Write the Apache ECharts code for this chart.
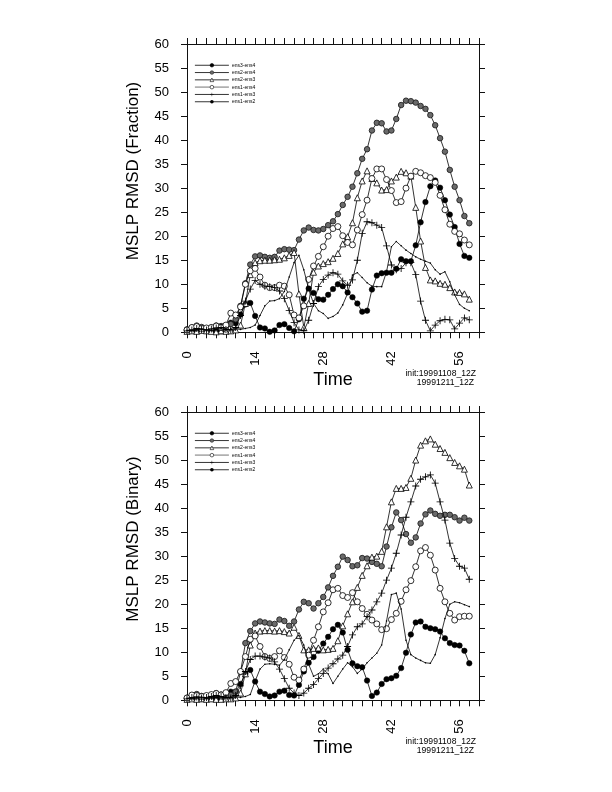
<!DOCTYPE html>
<html>
<head>
<meta charset="utf-8">
<script src="https://cdn.jsdelivr.net/npm/echarts@6/dist/echarts.min.js"></script>
<style>
html,body{margin:0;padding:0;background:#fff;}
#chart{width:612px;height:792px;}
</style>
</head>
<body>
<div id="chart"></div>
<script>
// ---------- data ----------
const times = Array.from({length: 59}, (_, i) => i); // 0..58
const seriesNames = ['ens3-ens4', 'ens2-ens4', 'ens2-ens3', 'ens1-ens4', 'ens1-ens3', 'ens1-ens2'];
const xTickLabels = [0, 14, 28, 42, 56];

// Top panel: MSLP RMSD (Fraction)
const fracEns3Ens4 = [0.5,0.6,0.4,0.6,0.4,0.3,0.4,0.2,1.3,
  2.0,1.9,3.7,5.8,6.1,3.4,1.0,0.8,0.1,0.4,1.5,1.7,0.9,0.2,2.7,7.0,9.1,8.2,6.9,6.8,7.8,
  9.0,10.0,9.6,8.3,7.3,6.0,4.3,4.5,8.9,11.8,12.3,12.4,12.4,13.2,15.2,14.8,14.8,18.1,22.9,27.1,30.4,31.6,30.1,27.5,24.5,21.9,18.4,15.9,15.5];
const fracEns2Ens4 = [0.6,1.0,1.4,1.1,0.6,1.0,1.4,1.3,1.0,
  1.7,2.7,5.5,10.2,14.1,15.8,16.0,15.7,15.5,15.7,17.0,17.3,17.2,17.1,19.3,21.2,21.8,21.3,21.2,21.5,22.3,
  23.1,24.6,26.5,28.2,30.3,33.1,36.1,38.1,42.0,43.6,43.5,41.8,42.0,44.4,47.3,48.2,48.1,47.8,47.1,46.5,45.2,43.1,40.4,37.6,33.8,30.3,27.5,24.2,22.7];
const fracEns2Ens3 = [0.2,0.3,0.2,0.4,0.3,0.2,0.1,0.3,0.2,
  0.3,0.5,1.5,6.0,12.0,14.5,14.9,15.0,15.0,15.1,15.2,15.5,16.0,16.6,8.0,1.0,6.0,12.5,13.8,14.3,14.7,
  15.4,16.4,18.4,19.9,22.8,28.0,31.5,33.6,32.0,31.1,29.6,29.7,31.5,32.3,33.5,33.2,32.5,26.0,19.0,13.5,10.9,10.7,10.2,10.0,9.3,8.4,8.3,8.0,6.9];
const fracEns1Ens4 = [0.5,1.0,1.2,0.8,0.9,1.0,1.3,1.0,1.5,
  4.0,3.6,5.3,10.0,12.8,13.3,11.5,9.8,9.3,9.3,9.8,9.6,7.8,3.6,3.0,5.5,11.0,13.8,15.8,17.8,20.0,
  21.6,22.0,20.1,18.7,18.2,21.3,24.5,27.5,32.0,34.0,34.0,31.8,29.5,27.0,27.2,30.0,32.5,33.5,33.2,32.6,32.2,31.2,28.5,25.5,22.5,21.0,20.5,19.2,18.2];
const fracEns1Ens3 = [0.3,0.5,0.8,0.6,0.5,0.7,0.9,1.0,0.6,
  0.5,1.0,3.5,6.5,9.0,10.8,10.0,9.6,9.5,9.3,8.6,7.0,4.5,2.0,0.5,0.3,2.5,6.0,9.5,11.0,11.9,
  12.4,12.1,10.7,9.8,10.9,15.0,20.6,23.0,22.8,22.3,21.8,18.0,14.0,13.0,13.3,14.5,14.5,12.0,6.5,2.5,0.3,1.5,2.4,2.7,2.6,0.7,1.9,3.0,2.6];
const fracEns1Ens2 = [0.4,0.3,0.5,0.8,0.5,0.4,0.6,0.8,0.5,
  0.6,0.7,0.6,0.8,1.0,1.5,3.5,5.5,6.5,6.6,7.0,8.5,11.5,14.5,16.0,13.0,9.0,6.0,4.5,3.9,2.9,
  3.3,4.0,5.7,8.1,11.9,12.4,11.4,10.3,9.6,9.5,9.5,12.6,17.8,18.9,18.0,17.1,16.4,15.7,15.2,14.8,14.4,13.0,12.1,12.6,10.5,7.8,5.8,5.0,4.5];

// Bottom panel: MSLP RMSD (Binary)
const binEns3Ens4 = [0.4,0.6,0.5,0.3,0.6,0.4,0.5,0.3,1.0,
  1.8,1.8,3.4,5.5,6.3,3.9,1.8,1.3,0.8,1.0,1.8,2.0,1.1,1.0,3.2,6.0,7.8,9.0,10.3,11.8,13.2,
  14.8,15.7,14.1,10.5,7.7,7.1,6.9,4.1,0.9,1.6,3.4,4.4,4.6,5.1,6.7,9.9,13.7,16.2,16.4,15.3,15.0,14.8,14.3,12.9,11.9,11.5,11.4,10.3,7.7];
const binEns2Ens4 = [0.5,1.0,1.3,0.9,0.7,1.1,1.5,1.2,1.0,
  1.1,1.8,5.9,11.9,14.4,16.0,16.4,16.2,16.0,15.9,16.8,16.5,15.5,16.4,18.9,20.5,20.2,19.1,20.2,21.5,23.5,
  25.9,27.8,29.9,29.2,27.9,28.1,29.6,29.5,28.8,28.4,27.9,32.0,36.0,39.1,37.5,34.6,32.8,33.9,36.8,38.7,39.5,38.8,38.4,38.6,38.6,38.1,37.4,38.0,37.4];
const binEns2Ens3 = [0.2,0.3,0.2,0.3,0.2,0.3,0.2,0.2,0.3,
  0.3,0.5,1.5,5.5,11.5,14.0,14.4,14.5,14.5,14.4,14.5,14.3,14.0,15.2,13.5,10.5,10.5,10.8,10.9,10.5,10.6,
  10.8,12.4,15.5,18.0,20.5,23.5,26.0,28.0,29.8,30.0,31.0,36.1,41.3,44.1,44.1,44.3,46.2,50.0,53.1,54.0,54.4,53.3,52.4,51.6,50.5,49.5,48.8,48.1,44.8];
const binEns1Ens4 = [0.5,1.1,1.0,0.8,1.0,1.2,1.4,1.1,1.6,
  3.5,3.9,6.0,9.1,12.7,13.4,11.2,9.1,8.7,9.1,10.3,8.9,7.5,4.8,4.2,6.5,9.4,12.5,15.3,18.4,20.3,
  23.0,23.3,21.8,21.4,22.4,20.5,19.1,17.9,16.7,15.9,14.7,14.9,16.8,18.1,20.6,23.0,24.9,27.8,31.1,31.8,30.2,27.1,23.3,20.5,18.1,16.7,17.4,17.5,17.5];
const binEns1Ens3 = [0.3,0.6,0.7,0.5,0.6,0.8,1.0,0.8,0.6,
  0.5,1.0,3.0,6.0,8.5,9.2,9.2,9.0,8.8,8.0,6.5,4.5,2.5,1.5,1.0,1.5,2.5,3.3,4.5,5.6,6.7,
  7.6,8.6,9.4,11.2,13.6,15.3,15.9,17.4,18.8,20.5,22.3,25.0,27.5,30.6,34.4,38.1,41.3,44.6,46.0,46.5,46.9,45.2,41.3,37.5,32.7,29.5,27.9,27.5,25.2];
const binEns1Ens2 = [0.4,0.3,0.6,0.7,0.4,0.5,0.6,0.7,0.5,
  0.6,0.7,0.6,0.8,1.2,4.0,6.5,7.5,7.6,7.5,7.3,8.5,10.5,12.5,13.5,11.5,7.5,5.0,5.5,6.5,5.5,
  3.5,5.0,6.5,7.8,7.0,5.6,6.5,7.8,8.8,9.8,11.5,16.5,22.0,22.3,19.0,12.5,9.5,8.8,8.3,7.8,7.7,9.5,13.0,17.0,20.0,20.5,20.3,19.9,19.5];

const fracSeries = [fracEns3Ens4, fracEns2Ens4, fracEns2Ens3, fracEns1Ens4, fracEns1Ens3, fracEns1Ens2];
const binSeries  = [binEns3Ens4, binEns2Ens4, binEns2Ens3, binEns1Ens4, binEns1Ens3, binEns1Ens2];

// ---------- styles ----------
const FONT = "'Liberation Sans', Arial, Helvetica, sans-serif";
const PLUS = 'path://M4.4,0H5.6V4.4H10V5.6H5.6V10H4.4V5.6H0V4.4H4.4Z';
const markerStyles = [
  {symbol: 'circle', symbolSize: 5.5, itemStyle: {color: '#000', borderColor: '#000', borderWidth: 0.5}},
  {symbol: 'circle', symbolSize: 5.5, itemStyle: {color: '#6a6a6a', borderColor: '#222', borderWidth: 0.9}},
  {symbol: 'triangle', symbolSize: 6, itemStyle: {color: '#fff', borderColor: '#000', borderWidth: 0.8}},
  {symbol: 'circle', symbolSize: 6, itemStyle: {color: '#fff', borderColor: '#000', borderWidth: 0.8}},
  {symbol: PLUS, symbolSize: 7, itemStyle: {color: '#000'}},
  {symbol: 'circle', symbolSize: 1.6, itemStyle: {color: '#000'}}
];

const panels = [
  {top: 44, yName: 'MSLP RMSD (Fraction)', data: fracSeries},
  {top: 412, yName: 'MSLP RMSD (Binary)', data: binSeries}
];
const GRID_LEFT = 187, GRID_W = 292, GRID_H = 288.3;

const grids = [], xAxes = [], yAxes = [], series = [], legends = [], graphics = [];
const axisLineStyle = {color: '#111', width: 1};
const tickStyle = {color: '#111', width: 1};

panels.forEach((p, pi) => {
  grids.push({left: GRID_LEFT, top: p.top, width: GRID_W, height: GRID_H, containLabel: false});
  const xBase = {
    type: 'value', gridIndex: pi, min: 0, max: 60, interval: 2,
    axisLine: {show: true, onZero: false, lineStyle: axisLineStyle},
    axisTick: {show: true, inside: false, length: 6, lineStyle: tickStyle},
    splitLine: {show: false}
  };
  xAxes.push(Object.assign({}, xBase, {
    position: 'bottom',
    axisLabel: {
      show: true, rotate: 90, margin: 19, fontSize: 13, color: '#000', fontFamily: FONT,
      formatter: v => (xTickLabels.indexOf(v) >= 0 ? String(v) : '')
    }
  }));
  xAxes.push(Object.assign({}, xBase, {position: 'top', axisLabel: {show: false}}));
  const yBase = {
    type: 'value', gridIndex: pi, min: 0, max: 60, interval: 5,
    axisLine: {show: true, onZero: false, lineStyle: axisLineStyle},
    axisTick: {show: true, inside: false, length: 6, lineStyle: tickStyle},
    splitLine: {show: false}
  };
  yAxes.push(Object.assign({}, yBase, {
    position: 'left',
    axisLabel: {show: true, margin: 18, fontSize: 13, color: '#000', fontFamily: FONT}
  }));
  yAxes.push(Object.assign({}, yBase, {position: 'right', axisLabel: {show: false}}));

  p.data.forEach((arr, k) => {
    const m = markerStyles[k];
    series.push({
      type: 'line', name: seriesNames[k],
      xAxisIndex: pi * 2, yAxisIndex: pi * 2,
      data: times.map((t, i) => [t, arr[i]]),
      symbol: m.symbol, symbolSize: m.symbolSize, showSymbol: true,
      itemStyle: m.itemStyle,
      lineStyle: {color: '#000', width: 0.8},
      z: 2 + k,
      animation: false, silent: true
    });
  });

  legends.push({
    orient: 'vertical', left: 194, top: p.top + 18.5, padding: 0,
    itemWidth: 34, itemHeight: 4.5, itemGap: 1.8,
    itemStyle: {borderWidth: 0.6},
    textStyle: {fontSize: 5, lineHeight: 5.5, color: '#000', fontFamily: FONT, padding: [0, 0, 0, -2]},
    selectedMode: false,
    data: seriesNames.map((n, k) => k === 3
      ? {name: n, lineStyle: {color: '#b0b0b0', width: 1.8}}
      : {name: n, lineStyle: {color: '#000', width: 0.8}})
  });

  const off = p.top - 44;
  graphics.push({
    type: 'text', x: 133, y: 171 + off, rotation: Math.PI / 2,
    style: {text: p.yName, fontSize: 17, fontFamily: FONT, fill: '#000',
            textAlign: 'center', textVerticalAlign: 'middle'}
  });
  graphics.push({
    type: 'text', x: 333, y: 380 + off,
    style: {text: 'Time', fontSize: 18, fontFamily: FONT, fill: '#000',
            textAlign: 'center', textVerticalAlign: 'middle'}
  });
  graphics.push({
    type: 'text', x: 476, y: 373.5 + off,
    style: {text: 'init:19991108_12Z', fontSize: 8.6, fontFamily: FONT, fill: '#000',
            textAlign: 'right', textVerticalAlign: 'middle'}
  });
  graphics.push({
    type: 'text', x: 474, y: 382.5 + off,
    style: {text: '19991211_12Z', fontSize: 8.6, fontFamily: FONT, fill: '#000',
            textAlign: 'right', textVerticalAlign: 'middle'}
  });
});

const chart = echarts.init(document.getElementById('chart'), null, {renderer: 'canvas'});
chart.setOption({
  backgroundColor: '#fff',
  animation: false,
  grid: grids,
  xAxis: xAxes,
  yAxis: yAxes,
  legend: legends,
  series: series,
  graphic: graphics
});
</script>
</body>
</html>
